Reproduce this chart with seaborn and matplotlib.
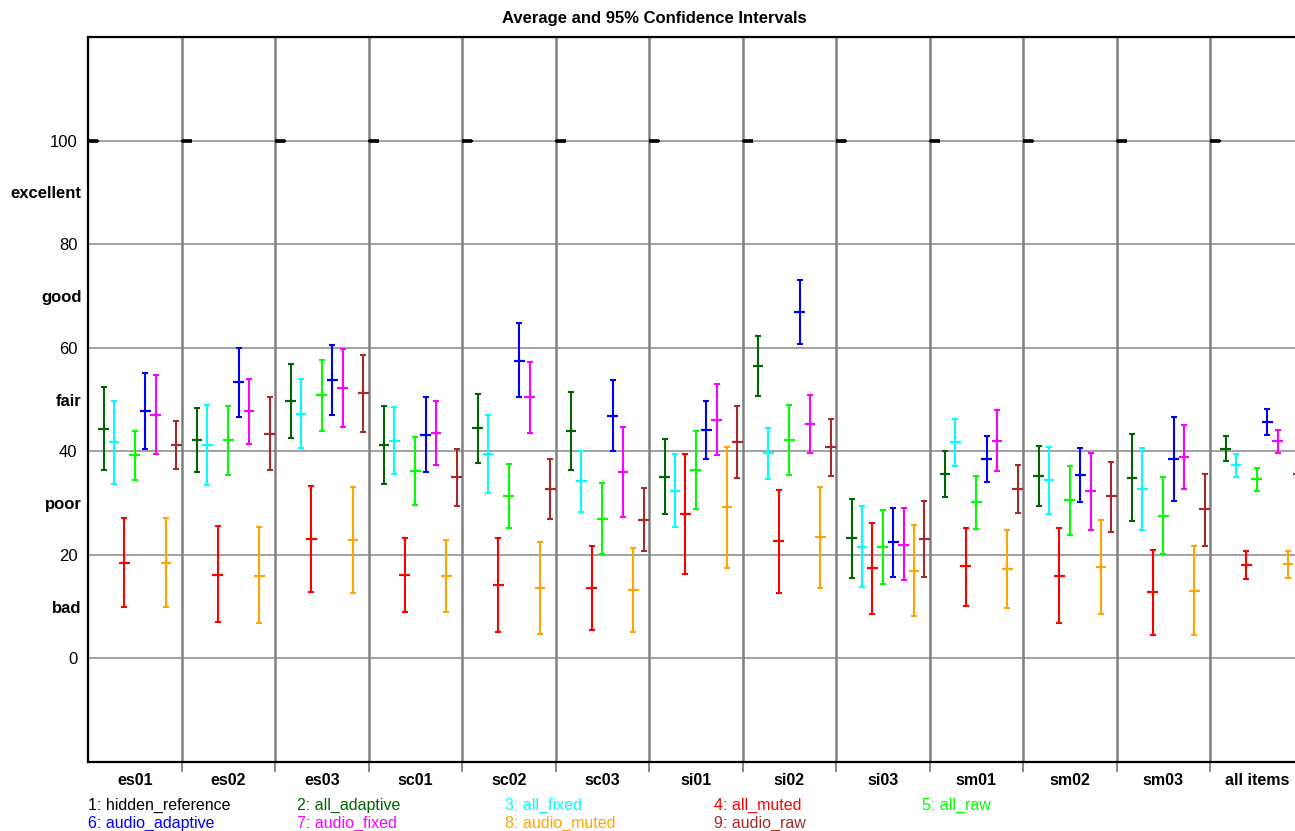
import matplotlib
matplotlib.use("Agg")
import matplotlib.pyplot as plt
import seaborn as sns
import numpy as np
import pandas as pd

# ---------------- data ----------------
GROUPS = ["es01", "es02", "es03", "sc01", "sc02", "sc03", "si01", "si02",
          "si03", "sm01", "sm02", "sm03", "all items"]
CONDITIONS = ["hidden_reference", "all_adaptive", "all_fixed", "all_muted", "all_raw",
              "audio_adaptive", "audio_fixed", "audio_muted", "audio_raw"]
COLORS = ["#000000", "#006400", "#00FFFF", "#FF0000", "#00FF00",
          "#0000FF", "#FF00FF", "#FFA500", "#A52A2A"]

hidden_reference_mean = [100] * 13
hidden_reference_lo = [100] * 13
hidden_reference_hi = [100] * 13

all_adaptive_mean = [44.3, 42.2, 49.7, 41.3, 44.5, 43.9, 35.1, 56.5, 23.2, 35.6, 35.3, 34.9, 40.5]
all_adaptive_lo = [36.3, 36.0, 42.5, 33.7, 37.8, 36.4, 27.9, 50.6, 15.6, 31.1, 29.5, 26.5, 38.2]
all_adaptive_hi = [52.4, 48.4, 56.8, 48.8, 51.1, 51.5, 42.4, 62.3, 30.7, 40.0, 41.1, 43.4, 42.9]

all_fixed_mean = [41.7, 41.2, 47.2, 42.0, 39.5, 34.2, 32.4, 39.6, 21.6, 41.7, 34.4, 32.7, 37.3]
all_fixed_lo = [33.7, 33.4, 40.6, 35.6, 31.9, 28.3, 25.3, 34.6, 13.7, 37.2, 27.9, 24.8, 35.1]
all_fixed_hi = [49.7, 49.0, 53.9, 48.5, 47.1, 40.0, 39.5, 44.5, 29.5, 46.3, 40.8, 40.6, 39.5]

all_muted_mean = [18.5, 16.2, 23.0, 16.1, 14.2, 13.6, 27.9, 22.6, 17.4, 17.8, 16.0, 12.8, 18.0]
all_muted_lo = [9.9, 7.0, 12.8, 8.9, 5.2, 5.5, 16.4, 12.7, 8.6, 10.2, 6.8, 4.6, 15.4]
all_muted_hi = [27.2, 25.5, 33.3, 23.3, 23.2, 21.8, 39.5, 32.6, 26.1, 25.2, 25.2, 21.0, 20.7]

all_raw_mean = [39.2, 42.2, 50.8, 36.2, 31.3, 27.0, 36.4, 42.1, 21.5, 30.2, 30.5, 27.6, 34.6]
all_raw_lo = [34.4, 35.5, 44.0, 29.6, 25.2, 20.2, 28.9, 35.4, 14.4, 25.0, 23.8, 20.2, 32.4]
all_raw_hi = [44.0, 48.7, 57.6, 42.7, 37.5, 33.8, 43.9, 48.9, 28.6, 35.3, 37.2, 35.0, 36.8]

audio_adaptive_mean = [47.8, 53.3, 53.8, 43.2, 57.5, 46.9, 44.1, 66.9, 22.4, 38.5, 35.4, 38.5, 45.7]
audio_adaptive_lo = [40.5, 46.6, 47.0, 36.0, 50.4, 40.0, 38.5, 60.7, 15.7, 34.0, 30.2, 30.4, 43.2]
audio_adaptive_hi = [55.1, 60.0, 60.6, 50.4, 64.7, 53.8, 49.8, 73.1, 29.1, 42.9, 40.7, 46.6, 48.1]

audio_fixed_mean = [47.1, 47.7, 52.2, 43.6, 50.5, 36.0, 46.1, 45.3, 22.0, 42.0, 32.3, 38.9, 41.9]
audio_fixed_lo = [39.4, 41.5, 44.7, 37.3, 43.6, 27.3, 39.3, 39.7, 15.1, 36.1, 24.8, 32.8, 39.7]
audio_fixed_hi = [54.8, 53.9, 59.7, 49.8, 57.3, 44.6, 53.0, 50.8, 29.0, 48.0, 39.7, 45.0, 44.2]

audio_muted_mean = [18.5, 16.0, 22.8, 15.9, 13.6, 13.3, 29.2, 23.4, 16.9, 17.2, 17.6, 13.1, 18.2]
audio_muted_lo = [9.9, 6.8, 12.6, 9.0, 4.8, 5.2, 17.4, 13.6, 8.1, 9.7, 8.5, 4.6, 15.5]
audio_muted_hi = [27.2, 25.3, 33.1, 22.9, 22.4, 21.4, 40.9, 33.1, 25.8, 24.8, 26.8, 21.7, 20.8]

audio_raw_mean = [41.2, 43.4, 51.2, 35.0, 32.7, 26.8, 41.8, 40.8, 23.0, 32.7, 31.3, 28.8, 35.7]
audio_raw_lo = [36.6, 36.3, 43.8, 29.5, 26.9, 20.7, 34.8, 35.3, 15.7, 28.1, 24.5, 21.8, 33.5]
audio_raw_hi = [45.9, 50.5, 58.6, 40.5, 38.5, 33.0, 48.8, 46.3, 30.4, 37.3, 38.0, 35.7, 37.9]

MEANS = [hidden_reference_mean, all_adaptive_mean, all_fixed_mean, all_muted_mean, all_raw_mean,
         audio_adaptive_mean, audio_fixed_mean, audio_muted_mean, audio_raw_mean]
LOWS = [hidden_reference_lo, all_adaptive_lo, all_fixed_lo, all_muted_lo, all_raw_lo,
        audio_adaptive_lo, audio_fixed_lo, audio_muted_lo, audio_raw_lo]
HIGHS = [hidden_reference_hi, all_adaptive_hi, all_fixed_hi, all_muted_hi, all_raw_hi,
         audio_adaptive_hi, audio_fixed_hi, audio_muted_hi, audio_raw_hi]

Y_NUM_TICKS = [0, 20, 40, 60, 80, 100]
Y_WORD_TICKS = [10, 30, 50, 70, 90]
Y_WORDS = ["bad", "poor", "fair", "good", "excellent"]

# ---------------- build table ----------------
rows = []
nC = len(CONDITIONS)
for ci, cond in enumerate(CONDITIONS):
    for gi, g in enumerate(GROUPS):
        rows.append(dict(group=g, condition=cond,
                         x=gi + (ci + 0.5) / nC,
                         mean=MEANS[ci][gi], lo=LOWS[ci][gi], hi=HIGHS[ci][gi]))
df = pd.DataFrame(rows)

# ---------------- plot ----------------
sns.set_theme(style="white")
plt.rcParams["font.family"] = ["Liberation Sans", "DejaVu Sans"]
plt.rcParams["text.color"] = "black"
plt.rcParams["xtick.labelcolor"] = "black"
plt.rcParams["ytick.labelcolor"] = "black"

W, H = 1295, 831
fig = plt.figure(figsize=(W / 100, H / 100), dpi=100)
ax = fig.add_axes([88 / W, (H - 762) / H, (1303.5 - 88) / W, (762 - 37) / H])

ax.set_xlim(0, len(GROUPS))
ax.set_ylim(-20, 120)

# grid
for yv in Y_NUM_TICKS:
    ax.axhline(yv, color="#9a9a9a", lw=1.3, zorder=0)
for gx in range(1, len(GROUPS)):
    ax.axvline(gx, color="#808080", lw=1.8, zorder=0)

# error bars
for ci, cond in enumerate(CONDITIONS):
    sub = df[df.condition == cond]
    ax.errorbar(sub.x, sub["mean"],
                yerr=[sub["mean"] - sub.lo, sub.hi - sub["mean"]],
                fmt="none", ecolor=COLORS[ci], elinewidth=1.5,
                capsize=2.3, capthick=1.5, zorder=3)

# mean markers
sns.scatterplot(data=df, x="x", y="mean", hue="condition", hue_order=CONDITIONS,
                palette=COLORS, marker="_", s=60, linewidth=1.6, legend=False,
                ax=ax, zorder=4)
# hidden reference slightly thicker dash
ref = df[df.condition == "hidden_reference"]
ax.scatter(ref.x, ref["mean"], marker="_", s=55, linewidths=2.6, color="black", zorder=5)

# spines
for s in ["left", "top", "bottom"]:
    ax.spines[s].set_visible(True)
    ax.spines[s].set_color("black")
    ax.spines[s].set_linewidth(1.6)
ax.spines["right"].set_visible(False)

# x ticks
ax.set_xticks(range(1, len(GROUPS)))
ax.set_xticklabels([])
ax.tick_params(axis="x", which="major", length=7.5, width=1.3, color="#808080",
               direction="out", bottom=True)
ax.set_xticks(np.arange(len(GROUPS)) + 0.5, minor=True)
ax.set_xticklabels(GROUPS, minor=True, fontsize=11.5, fontweight="bold", color="black")
ax.tick_params(axis="x", which="minor", length=0, pad=8)

# y ticks
ax.set_yticks(Y_NUM_TICKS)
ax.set_yticklabels([str(v) for v in Y_NUM_TICKS], fontsize=12, color="black")
ax.tick_params(axis="y", which="major", length=0, pad=7.5, left=True)
ax.set_yticks(Y_WORD_TICKS, minor=True)
ax.set_yticklabels(Y_WORDS, minor=True, fontsize=12, fontweight="bold", color="black")
ax.tick_params(axis="y", which="minor", length=0, pad=4.5)

ax.set_xlabel("")
ax.set_ylabel("")

fig.text(654.5 / W, 1 - 18 / H, "Average and 95% Confidence Intervals",
         ha="center", va="center", fontsize=12, fontweight="bold", color="black")

# legend text
leg_x = [88, 297, 505, 714, 922]
leg_y = [805, 823]
for i, (cond, col) in enumerate(zip(CONDITIONS, COLORS)):
    r, c = divmod(i, 5)
    fig.text(leg_x[c] / W, 1 - leg_y[r] / H, f"{i + 1}: {cond}", color=col,
             ha="left", va="center", fontsize=11.5)

fig.savefig("out.png", dpi=100)
